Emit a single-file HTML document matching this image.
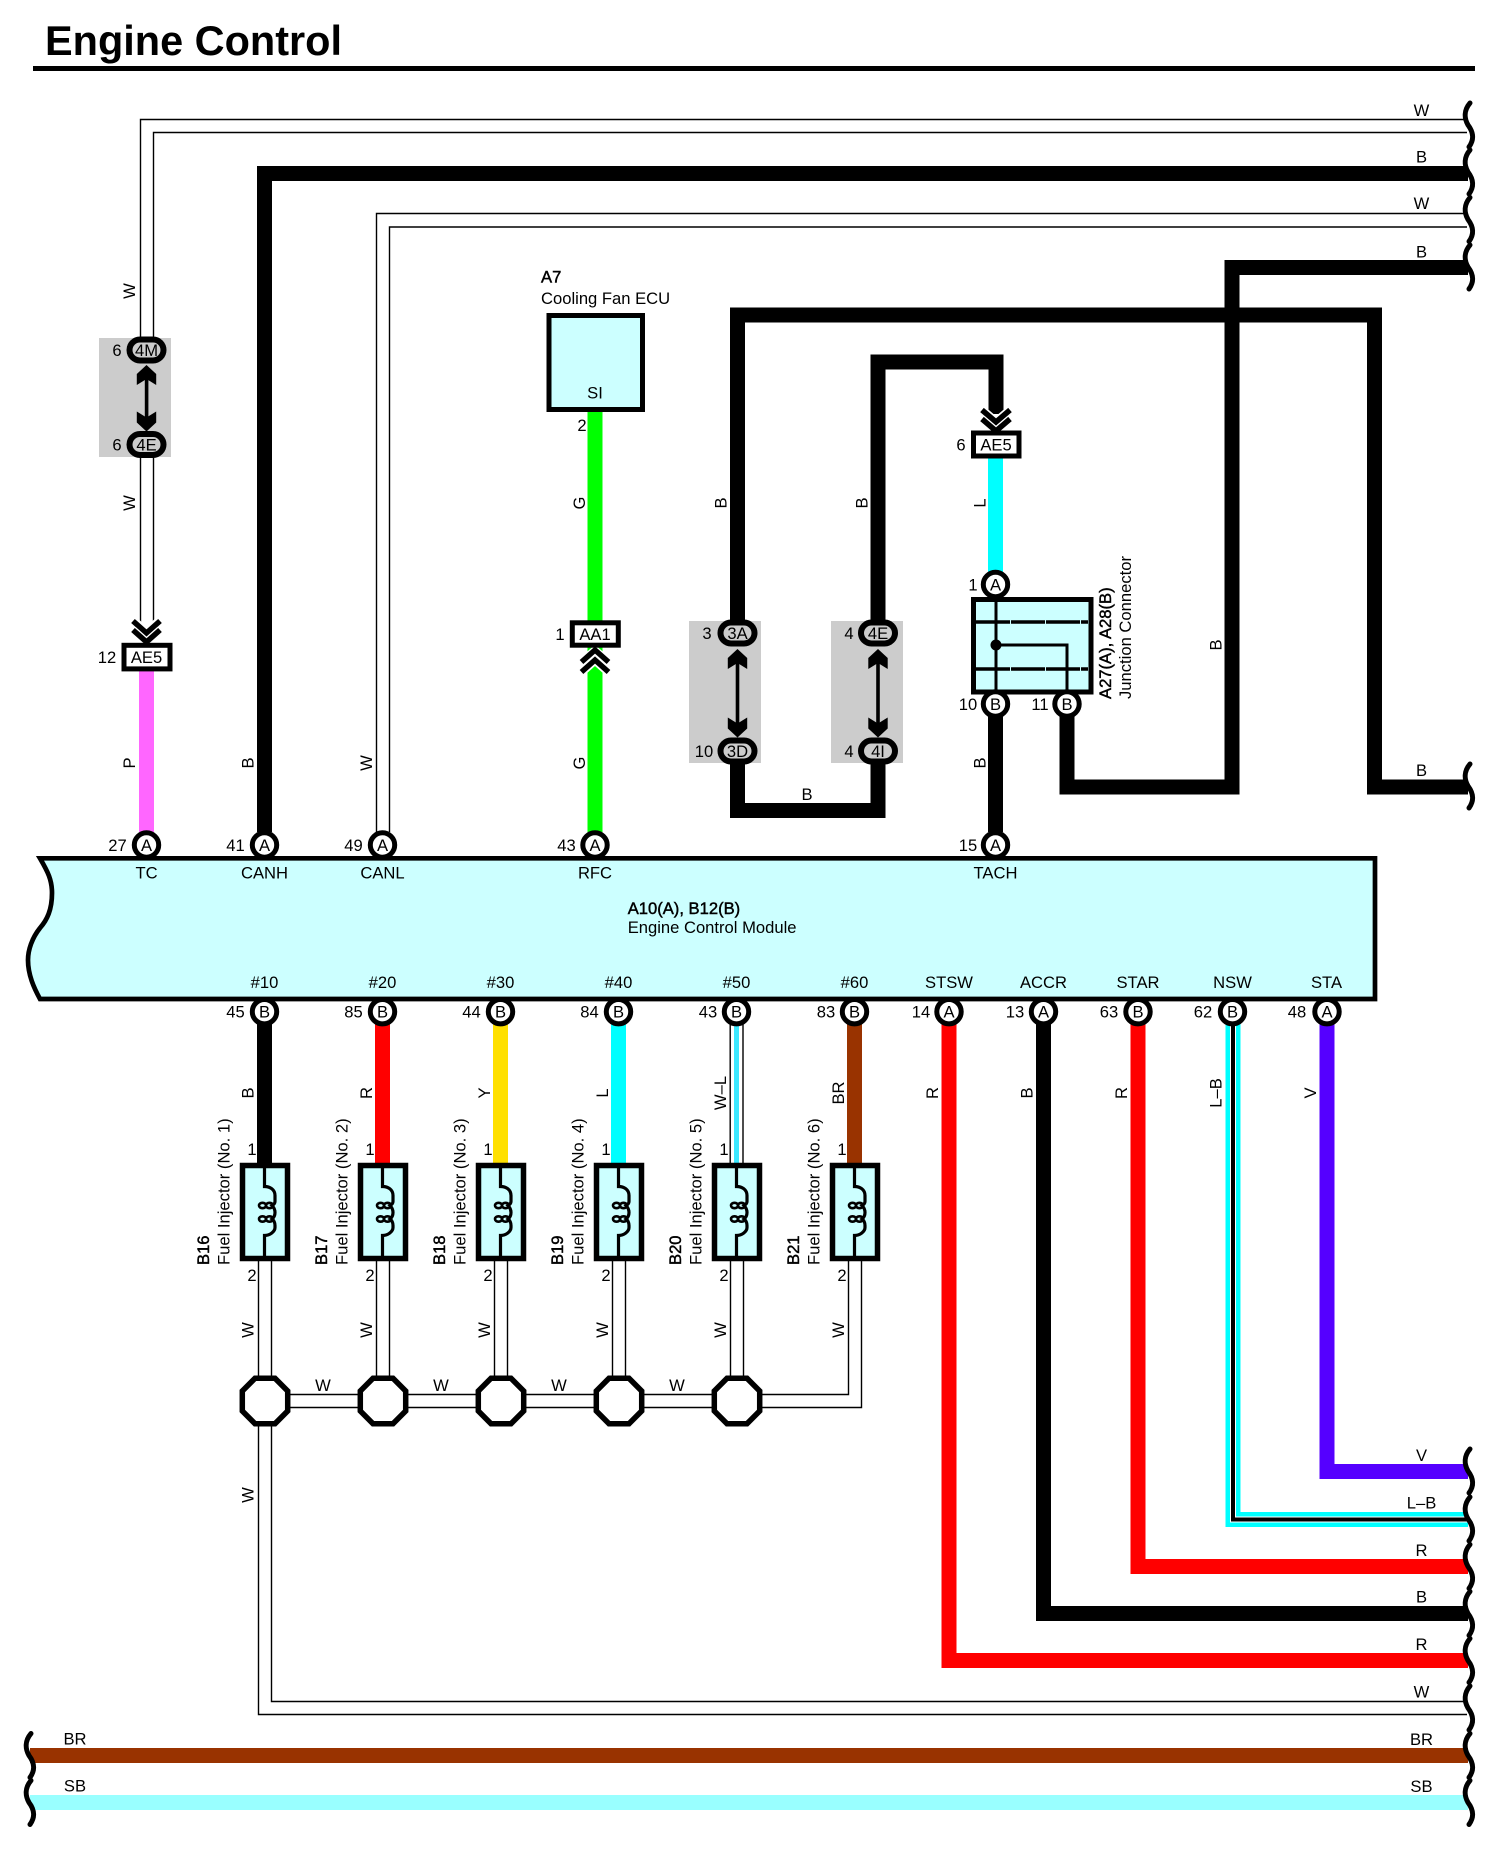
<!DOCTYPE html>
<html>
<head>
<meta charset="utf-8">
<title>Engine Control</title>
<style>
html,body{margin:0;padding:0;background:#fff}
svg{display:block}
text{font-family:"Liberation Sans",sans-serif;font-size:16.6px;fill:#000}
.m{text-anchor:middle}
.e{text-anchor:end}
.b{stroke:#000;stroke-width:.45px}
</style>
</head>
<body>
<svg width="1502" height="1850" viewBox="0 0 1502 1850" xmlns="http://www.w3.org/2000/svg">
<defs>
<path id="sq" d="M2,-22 C-4,-15 -4,-7 0,0 C6,8 6,15 1,22" fill="none" stroke="#000" stroke-width="5" stroke-linecap="round"/>
<path id="hu" d="M0,0 L9.7,9 L9.7,20 L0,14 L-9.7,20 L-9.7,9 Z" fill="#000"/>
<path id="hd" d="M0,0 L9.7,-9 L9.7,-20 L0,-14 L-9.7,-20 L-9.7,-9 Z" fill="#000"/>
<circle id="pin" r="12.2" fill="#fff" stroke="#000" stroke-width="5"/>
<rect id="ov" x="-17" y="-10.5" width="34" height="21" rx="10.5" ry="10.5" fill="#ccc" stroke="#000" stroke-width="6"/>
<g id="inj">
<rect x="-22.5" y="0" width="45" height="93" fill="#ccffff" stroke="#000" stroke-width="5.5"/>
<path d="M-0.5,0 V21 C5,21 10,24 10,30 V36 C10,38 9,39 7,40 C9,42 10,44 10,47 C10,50 9,52 7,53.5 C9,55 10,57 10,60 V62 C10,66 5,70 -0.5,70 V93" fill="none" stroke="#000" stroke-width="3.2"/>
<ellipse cx="-2.5" cy="40" rx="3.5" ry="2.7" fill="none" stroke="#000" stroke-width="2.6"/>
<ellipse cx="4.5" cy="40" rx="3.5" ry="2.7" fill="none" stroke="#000" stroke-width="2.6"/>
<ellipse cx="-2.5" cy="53.5" rx="3.5" ry="2.7" fill="none" stroke="#000" stroke-width="2.6"/>
<ellipse cx="4.5" cy="53.5" rx="3.5" ry="2.7" fill="none" stroke="#000" stroke-width="2.6"/>
</g>
<polygon id="oct" points="-10,-22.7 10,-22.7 22.7,-10 22.7,10 10,22.7 -10,22.7 -22.7,10 -22.7,-10" fill="#fff" stroke="#000" stroke-width="5.5"/>
</defs>

<!-- title -->
<text x="45" y="55" style="font-size:41.5px;font-weight:bold" textLength="297" lengthAdjust="spacingAndGlyphs">Engine Control</text>
<rect x="33" y="66" width="1442" height="5" fill="#000"/>

<!-- gray boxes -->
<rect x="99" y="338" width="72" height="119" fill="#ccc"/>
<rect x="689" y="621" width="72" height="142" fill="#ccc"/>
<rect x="831" y="621" width="72" height="142" fill="#ccc"/>

<!-- thin W wires -->
<g fill="none" stroke="#000" stroke-width="1.4">
<path d="M1467,119.5 H140.5 V338"/>
<path d="M1467,132.5 H153.5 V338"/>
<path d="M1467,213.5 H376.5 V832"/>
<path d="M1467,227 H389.5 V832"/>
<path d="M140.5,457 V622 M153.5,457 V622"/>
<!-- injector returns -->
<path d="M258.5,1260 V1380 M271.5,1260 V1380"/>
<path d="M376.5,1260 V1380 M389.5,1260 V1380"/>
<path d="M494.5,1260 V1380 M507.5,1260 V1380"/>
<path d="M612.5,1260 V1380 M625.5,1260 V1380"/>
<path d="M730.5,1260 V1380 M743.5,1260 V1380"/>
<path d="M848.5,1260 V1394.5 H760"/>
<path d="M861.5,1260 V1407.5 H760"/>
<path d="M290,1394.5 H734 M290,1407.5 H734"/>
<path d="M271.5,1420 V1701.5 H1467"/>
<path d="M258.5,1420 V1714.5 H1467"/>
</g>

<!-- thick wires -->
<g fill="none" stroke-width="15" stroke-linejoin="miter">
<path d="M264.5,832 V173.5 H1468" stroke="#000"/>
<path d="M737.5,620 V315 H1374.5 V787 H1468" stroke="#000"/>
<path d="M1468,267.5 H1232 V787 H1067 V716" stroke="#000"/>
<path d="M878,620 V362 H996 V414" stroke="#000"/>
<path d="M737.5,763 V810.5 H878 V763" stroke="#000"/>
<path d="M995.5,716 V832" stroke="#000"/>
<path d="M995.5,458 V572" stroke="#00ffff"/>
<path d="M146.5,671 V832" stroke="#ff66ff"/>
<path d="M595,411 V621 M595,647 V832" stroke="#00ff00"/>
<path d="M264.5,1024 V1164" stroke="#000"/>
<path d="M382.5,1024 V1164" stroke="#ff0000"/>
<path d="M500.5,1024 V1164" stroke="#ffe000"/>
<path d="M618.5,1024 V1164" stroke="#00ffff"/>
<path d="M854.5,1024 V1164" stroke="#993300"/>
<path d="M949,1024 V1660.5 H1468" stroke="#ff0000"/>
<path d="M1043.5,1024 V1613.5 H1468" stroke="#000"/>
<path d="M1138,1024 V1566.5 H1468" stroke="#ff0000"/>
<path d="M1327,1024 V1471.5 H1468" stroke="#5500ff"/>
<path d="M1233,1024 V1519.5 H1468" stroke="#00ffff"/>
<path d="M30,1755.5 H1468" stroke="#993300"/>
<path d="M30,1802.5 H1468" stroke="#99ffff"/>
</g>
<path d="M1233,1024 V1519.5 H1468" fill="none" stroke="#fff" stroke-width="6"/>
<path d="M1233,1024 V1519.5 H1468" fill="none" stroke="#000" stroke-width="4"/>
<!-- W-L -->
<path d="M736.5,1024 V1164" fill="none" stroke="#3ce8ff" stroke-width="5"/>
<path d="M730.2,1024 V1164 M743,1024 V1164" fill="none" stroke="#000" stroke-width="1.4"/>

<!-- double arrows -->
<g>
<rect x="144.8" y="372" width="3.6" height="54" fill="#000"/>
<use href="#hu" x="146.5" y="365"/><use href="#hd" x="146.5" y="431.5"/>
<rect x="735.7" y="655" width="3.6" height="76" fill="#000"/>
<use href="#hu" x="737.5" y="649"/><use href="#hd" x="737.5" y="737.5"/>
<rect x="876.2" y="655" width="3.6" height="76" fill="#000"/>
<use href="#hu" x="878" y="649"/><use href="#hd" x="878" y="737.5"/>
</g>

<!-- chevrons -->
<g fill="none" stroke-linejoin="miter">
<polyline points="133,621 146.5,633 160,621" stroke="#fff" stroke-width="10"/>
<polyline points="133,621 146.5,633 160,621" stroke="#000" stroke-width="5.5"/>
<polyline points="133,630 146.5,642 160,630" stroke="#fff" stroke-width="8"/>
<polyline points="133,630 146.5,642 160,630" stroke="#000" stroke-width="5.5"/>
<polyline points="982,410 996,422 1010,410" stroke="#fff" stroke-width="9"/>
<polyline points="982,410 996,422 1010,410" stroke="#000" stroke-width="5.5"/>
<polyline points="982,419 996,431 1010,419" stroke="#fff" stroke-width="8"/>
<polyline points="982,419 996,431 1010,419" stroke="#000" stroke-width="5.5"/>
<polyline points="581.5,672 595,660 608.5,672" stroke="#fff" stroke-width="9"/>
<polyline points="581.5,672 595,660 608.5,672" stroke="#000" stroke-width="5.5"/>
<polyline points="581.5,662 595,650 608.5,662" stroke="#fff" stroke-width="8"/>
<polyline points="581.5,662 595,650 608.5,662" stroke="#000" stroke-width="5.5"/>
</g>

<!-- connectors: rect -->
<g fill="#fff" stroke="#000" stroke-width="5">
<rect x="124" y="645.3" width="46" height="23.6"/>
<rect x="572.3" y="622.8" width="46" height="22.4"/>
<rect x="973.5" y="433" width="45.5" height="23"/>
</g>
<text class="m" x="146.5" y="663">AE5</text>
<text class="m" x="595" y="640">AA1</text>
<text class="m" x="996" y="450.5">AE5</text>
<text class="m" x="107" y="663">12</text>
<text class="m" x="560" y="640">1</text>
<text class="m" x="961" y="450.5">6</text>

<!-- ovals -->
<use href="#ov" x="146.5" y="350"/><use href="#ov" x="146.5" y="444.5"/>
<use href="#ov" x="737.5" y="633"/><use href="#ov" x="737.5" y="751"/>
<use href="#ov" x="878" y="633"/><use href="#ov" x="878" y="751"/>
<g class="m">
<text class="m" x="146.5" y="356">4M</text><text class="m" x="146.5" y="450.5">4E</text>
<text class="m" x="737.5" y="639">3A</text><text class="m" x="737.5" y="757">3D</text>
<text class="m" x="878" y="639">4E</text><text class="m" x="878" y="757">4I</text>
<text class="m" x="117" y="356">6</text><text class="m" x="117" y="450.5">6</text>
<text class="m" x="707" y="639">3</text><text class="m" x="704" y="757">10</text>
<text class="m" x="849" y="639">4</text><text class="m" x="849" y="757">4</text>
</g>

<!-- Cooling fan ECU -->
<rect x="549" y="315.5" width="93.5" height="94" fill="#ccffff" stroke="#000" stroke-width="5"/>
<text class="b" x="541" y="282.5">A7</text>
<text x="541" y="304">Cooling Fan ECU</text>
<text class="m" x="595" y="398.5">SI</text>
<text class="m" x="582" y="431">2</text>

<!-- Junction connector -->
<rect x="973.5" y="599.5" width="117.5" height="92.5" fill="#ccffff" stroke="#000" stroke-width="5"/>
<path d="M976,622 H1088 M976,669 H1088" stroke="#000" stroke-width="3.5" stroke-dasharray="34 1" fill="none"/>
<path d="M996,596 V692 M996,645 H1067 V692" stroke="#000" stroke-width="3" fill="none"/>
<circle cx="996" cy="645" r="5.5" fill="#000"/>

<!-- pins on junction -->
<use href="#pin" x="995.5" y="584.5"/><use href="#pin" x="995.5" y="704"/><use href="#pin" x="1067" y="704"/>
<text class="m" x="995.5" y="590.5">A</text><text class="m" x="995.5" y="710">B</text><text class="m" x="1067" y="710">B</text>
<text class="m" x="973" y="590.5">1</text><text class="m" x="968" y="710">10</text><text class="m" x="1040" y="710">11</text>
<text class="b" transform="translate(1111 699) rotate(-90)">A27(A), A28(B)</text>
<text transform="translate(1131 699) rotate(-90)">Junction Connector</text>

<!-- top module pins -->
<use href="#pin" x="146.5" y="845"/><use href="#pin" x="264.5" y="845"/><use href="#pin" x="382.5" y="845"/><use href="#pin" x="595" y="845"/><use href="#pin" x="995.5" y="845"/>
<!-- bottom module pins -->
<use href="#pin" x="264.5" y="1011.7"/><use href="#pin" x="382.5" y="1011.7"/><use href="#pin" x="500.5" y="1011.7"/><use href="#pin" x="618.5" y="1011.7"/><use href="#pin" x="736.5" y="1011.7"/><use href="#pin" x="854.5" y="1011.7"/>
<use href="#pin" x="949" y="1011.7"/><use href="#pin" x="1043.5" y="1011.7"/><use href="#pin" x="1138" y="1011.7"/><use href="#pin" x="1232.5" y="1011.7"/><use href="#pin" x="1327" y="1011.7"/>

<!-- module -->
<path d="M40,858.3 C48,872 52,880 52,893 C52,910 47,920 40,928 C32,938 28,950 28,960 C28,975 34,988 40,999 L1375,999 L1375,858.3 Z" fill="#ccffff" stroke="#000" stroke-width="4.7"/>

<!-- pin letters -->
<g>
<text class="m" x="146.5" y="851">A</text><text class="m" x="264.5" y="851">A</text><text class="m" x="382.5" y="851">A</text><text class="m" x="595" y="851">A</text><text class="m" x="995.5" y="851">A</text>
<text class="m" x="264.5" y="1017.7">B</text><text class="m" x="382.5" y="1017.7">B</text><text class="m" x="500.5" y="1017.7">B</text><text class="m" x="618.5" y="1017.7">B</text><text class="m" x="736.5" y="1017.7">B</text><text class="m" x="854.5" y="1017.7">B</text>
<text class="m" x="949" y="1017.7">A</text><text class="m" x="1043.5" y="1017.7">A</text><text class="m" x="1138" y="1017.7">B</text><text class="m" x="1232.5" y="1017.7">B</text><text class="m" x="1327" y="1017.7">A</text>
<!-- pin numbers -->
<text class="m" x="117.5" y="851">27</text><text class="m" x="235.5" y="851">41</text><text class="m" x="353.5" y="851">49</text><text class="m" x="566.5" y="851">43</text><text class="m" x="968" y="851">15</text>
<text class="m" x="235.5" y="1017.7">45</text><text class="m" x="353.5" y="1017.7">85</text><text class="m" x="471.5" y="1017.7">44</text><text class="m" x="589.5" y="1017.7">84</text><text class="m" x="708" y="1017.7">43</text><text class="m" x="826" y="1017.7">83</text>
<text class="m" x="921" y="1017.7">14</text><text class="m" x="1015" y="1017.7">13</text><text class="m" x="1109" y="1017.7">63</text><text class="m" x="1203" y="1017.7">62</text><text class="m" x="1297" y="1017.7">48</text>
<!-- module terminals -->
<text class="m" x="146.5" y="878.5">TC</text><text class="m" x="264.5" y="878.5">CANH</text><text class="m" x="382.5" y="878.5">CANL</text><text class="m" x="595" y="878.5">RFC</text><text class="m" x="995.5" y="878.5">TACH</text>
<text class="m" x="264.5" y="988">#10</text><text class="m" x="382.5" y="988">#20</text><text class="m" x="500.5" y="988">#30</text><text class="m" x="618.5" y="988">#40</text><text class="m" x="736.5" y="988">#50</text><text class="m" x="854.5" y="988">#60</text>
<text class="m" x="949" y="988">STSW</text><text class="m" x="1043.5" y="988">ACCR</text><text class="m" x="1138" y="988">STAR</text><text class="m" x="1232.5" y="988">NSW</text><text class="m" x="1326.5" y="988">STA</text>
</g>
<text class="b" x="627.7" y="914">A10(A), B12(B)</text>
<text x="627.7" y="933">Engine Control Module</text>

<!-- injectors -->
<use href="#inj" x="265" y="1165.5"/><use href="#inj" x="383" y="1165.5"/><use href="#inj" x="501" y="1165.5"/><use href="#inj" x="619" y="1165.5"/><use href="#inj" x="737" y="1165.5"/><use href="#inj" x="855" y="1165.5"/>
<text class="m" x="252" y="1155">1</text><text class="m" x="370" y="1155">1</text><text class="m" x="488" y="1155">1</text><text class="m" x="606" y="1155">1</text><text class="m" x="724" y="1155">1</text><text class="m" x="842" y="1155">1</text>
<text class="m" x="252" y="1281">2</text><text class="m" x="370" y="1281">2</text><text class="m" x="488" y="1281">2</text><text class="m" x="606" y="1281">2</text><text class="m" x="724" y="1281">2</text><text class="m" x="842" y="1281">2</text>
<text class="b" transform="translate(209 1265) rotate(-90)">B16</text><text transform="translate(229.5 1265) rotate(-90)">Fuel Injector (No. 1)</text>
<text class="b" transform="translate(327 1265) rotate(-90)">B17</text><text transform="translate(347.5 1265) rotate(-90)">Fuel Injector (No. 2)</text>
<text class="b" transform="translate(445 1265) rotate(-90)">B18</text><text transform="translate(465.5 1265) rotate(-90)">Fuel Injector (No. 3)</text>
<text class="b" transform="translate(563 1265) rotate(-90)">B19</text><text transform="translate(583.5 1265) rotate(-90)">Fuel Injector (No. 4)</text>
<text class="b" transform="translate(681 1265) rotate(-90)">B20</text><text transform="translate(701.5 1265) rotate(-90)">Fuel Injector (No. 5)</text>
<text class="b" transform="translate(799 1265) rotate(-90)">B21</text><text transform="translate(819.5 1265) rotate(-90)">Fuel Injector (No. 6)</text>

<!-- junction octagons -->
<use href="#oct" x="265" y="1401"/><use href="#oct" x="383" y="1401"/><use href="#oct" x="501" y="1401"/><use href="#oct" x="619" y="1401"/><use href="#oct" x="737" y="1401"/>
<text class="m" x="323" y="1391">W</text><text class="m" x="441" y="1391">W</text><text class="m" x="559" y="1391">W</text><text class="m" x="677" y="1391">W</text>

<!-- rotated wire labels -->
<g>
<text class="m" transform="translate(135 291) rotate(-90)">W</text>
<text class="m" transform="translate(135 503) rotate(-90)">W</text>
<text class="m" transform="translate(135 763) rotate(-90)">P</text>
<text class="m" transform="translate(253.5 763) rotate(-90)">B</text>
<text class="m" transform="translate(372 763) rotate(-90)">W</text>
<text class="m" transform="translate(585 503) rotate(-90)">G</text>
<text class="m" transform="translate(585 763) rotate(-90)">G</text>
<text class="m" transform="translate(726.5 503) rotate(-90)">B</text>
<text class="m" transform="translate(867.5 503) rotate(-90)">B</text>
<text class="m" transform="translate(985.5 503) rotate(-90)">L</text>
<text class="m" transform="translate(985.5 763) rotate(-90)">B</text>
<text class="m" transform="translate(1221.5 645) rotate(-90)">B</text>
<text class="m" x="807" y="800">B</text>

<text class="m" transform="translate(253.5 1093) rotate(-90)">B</text>
<text class="m" transform="translate(372 1093) rotate(-90)">R</text>
<text class="m" transform="translate(490 1093) rotate(-90)">Y</text>
<text class="m" transform="translate(608 1093) rotate(-90)">L</text>
<text class="m" transform="translate(726 1093) rotate(-90)">W&#8211;L</text>
<text class="m" transform="translate(844 1093) rotate(-90)">BR</text>
<text class="m" transform="translate(938 1093) rotate(-90)">R</text>
<text class="m" transform="translate(1032.5 1093) rotate(-90)">B</text>
<text class="m" transform="translate(1127 1093) rotate(-90)">R</text>
<text class="m" transform="translate(1221.5 1093) rotate(-90)">L&#8211;B</text>
<text class="m" transform="translate(1316 1093) rotate(-90)">V</text>

<text class="m" transform="translate(253.5 1330) rotate(-90)">W</text>
<text class="m" transform="translate(372 1330) rotate(-90)">W</text>
<text class="m" transform="translate(490 1330) rotate(-90)">W</text>
<text class="m" transform="translate(608 1330) rotate(-90)">W</text>
<text class="m" transform="translate(726 1330) rotate(-90)">W</text>
<text class="m" transform="translate(844 1330) rotate(-90)">W</text>
<text class="m" transform="translate(253.5 1495) rotate(-90)">W</text>
</g>

<!-- right-hand labels -->
<g>
<text class="m" x="1421.5" y="116">W</text>
<text class="m" x="1421.5" y="162.5">B</text>
<text class="m" x="1421.5" y="209">W</text>
<text class="m" x="1421.5" y="257.5">B</text>
<text class="m" x="1421.5" y="776">B</text>
<text class="m" x="1421.5" y="1461">V</text>
<text class="m" x="1421.5" y="1508.5">L&#8211;B</text>
<text class="m" x="1421.5" y="1556">R</text>
<text class="m" x="1421.5" y="1602.5">B</text>
<text class="m" x="1421.5" y="1650">R</text>
<text class="m" x="1421.5" y="1697.5">W</text>
<text class="m" x="1421.5" y="1745">BR</text>
<text class="m" x="1421.5" y="1792">SB</text>
<text class="m" x="75" y="1744.5">BR</text>
<text class="m" x="75" y="1791.5">SB</text>
</g>

<!-- squiggles -->
<g>
<use href="#sq" x="1468" y="125"/>
<use href="#sq" x="1468" y="172"/>
<use href="#sq" x="1468" y="219.5"/>
<use href="#sq" x="1468" y="267"/>
<use href="#sq" x="1468" y="786"/>
<use href="#sq" x="1468" y="1471"/>
<use href="#sq" x="1468" y="1519"/>
<use href="#sq" x="1468" y="1566.5"/>
<use href="#sq" x="1468" y="1613.5"/>
<use href="#sq" x="1468" y="1660.5"/>
<use href="#sq" x="1468" y="1708"/>
<use href="#sq" x="1468" y="1755.5"/>
<use href="#sq" x="1468" y="1802.5"/>
<use href="#sq" x="29" y="1755.5"/>
<use href="#sq" x="29" y="1802.5"/>
</g>
</svg>
</body>
</html>
